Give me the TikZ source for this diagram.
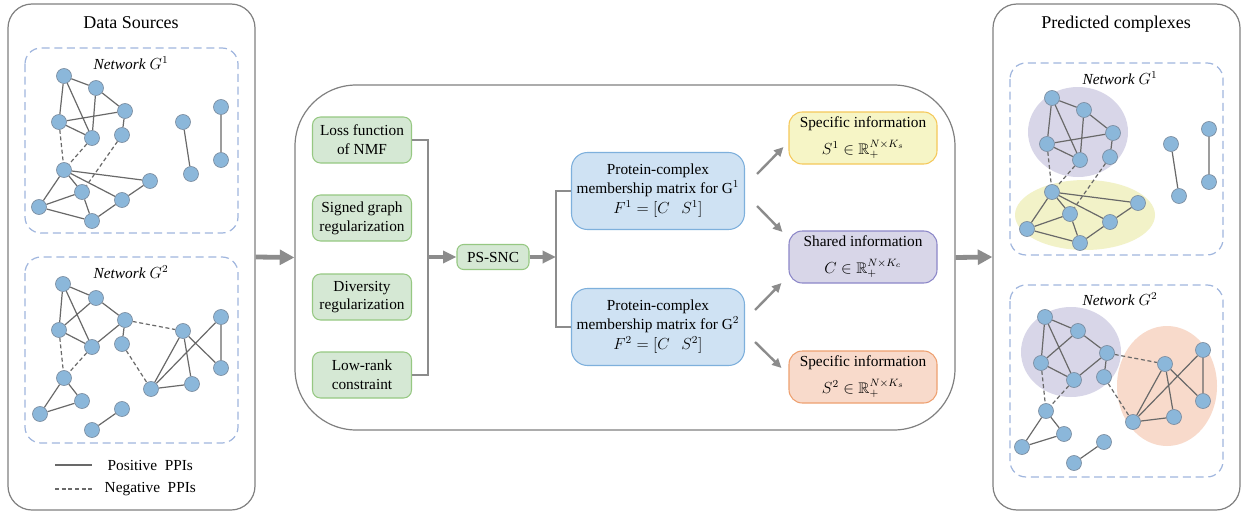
\documentclass[tikz,border=0pt]{standalone}
\usepackage{amssymb}
\usepackage{fontspec}
\setmainfont{Liberation Serif}
\usetikzlibrary{arrows.meta,calc,shapes.geometric}
\pgfdeclarelayer{bgZ}\pgfdeclarelayer{bgA}\pgfdeclarelayer{bgB}
\pgfsetlayers{bgZ,bgA,bgB,main}
\definecolor{nodefill}{RGB}{139,183,218}
\definecolor{nodeedge}{RGB}{120,138,158}
\definecolor{edgegray}{RGB}{105,105,105}
\definecolor{dashblue}{RGB}{160,182,222}
\definecolor{panelgray}{RGB}{128,128,128}
\definecolor{arrowgray}{RGB}{140,140,140}
\definecolor{gfill}{RGB}{213,232,212}
\definecolor{gline}{RGB}{150,200,130}
\definecolor{bfill}{RGB}{207,226,243}
\definecolor{bline}{RGB}{126,176,220}
\definecolor{yfill}{RGB}{246,245,198}
\definecolor{yline}{RGB}{245,200,90}
\definecolor{pfill}{RGB}{216,214,232}
\definecolor{pline}{RGB}{140,135,200}
\definecolor{ofill}{RGB}{248,218,203}
\definecolor{oline}{RGB}{238,160,112}
\definecolor{ellY}{RGB}{242,242,200}
\newcommand\fsbox{\fontsize{11.5}{14}\selectfont}
\newcommand\fstitle{\fontsize{13.5}{16}\selectfont}
\tikzset{
  pnode/.style={circle, minimum size=15*0.75pt, inner sep=0pt, fill=nodefill, draw=nodeedge, line width=0.5pt},
  posedge/.style={draw=edgegray, line width=0.9pt},
  negedge/.style={draw=edgegray, line width=0.9pt, dash pattern=on 3pt off 2pt},
  dbox/.style={draw=dashblue, line width=0.9pt, dash pattern=on 6pt off 3.5pt, rounded corners=12pt},
  panel/.style={draw=panelgray, line width=0.9pt, rounded corners=18pt, minimum width=247*0.75pt, minimum height=506*0.75pt, inner sep=0pt},
  bigarrow/.style={draw=arrowgray, line width=3.6pt, -{Triangle[length=11pt,width=11pt]}},
  midarrow/.style={draw=arrowgray, line width=3pt, -{Triangle[length=10pt,width=9pt]}},
  diagarrow/.style={draw=arrowgray, line width=1.8pt, -{Triangle[length=7pt,width=6.5pt]}},
  conn/.style={draw=arrowgray, line width=1.4pt},
  gbox/.style={rounded corners=6pt, fill=gfill, draw=gline, line width=0.8pt, minimum width=99*0.75pt, minimum height=46*0.75pt, align=center, font=\fsbox, inner sep=1pt},
  bbox/.style={rounded corners=12pt, fill=bfill, draw=bline, line width=0.8pt, minimum width=173*0.75pt, minimum height=77*0.75pt, align=center, font=\fsbox, inner sep=1pt},
  ibox/.style={rounded corners=10pt, line width=0.8pt, minimum width=148*0.75pt, minimum height=52*0.75pt, align=center, font=\fsbox, inner sep=1pt},
  nettitle/.style={font=\fsbox},
}
\newcommand\NetOne[1]{%
  \node[pnode] (#1a1) at (64,76) {};
  \node[pnode] (#1a2) at (96,88) {};
  \node[pnode] (#1a3) at (125,111) {};
  \node[pnode] (#1a4) at (59,122) {};
  \node[pnode] (#1a5) at (92,138) {};
  \node[pnode] (#1a6) at (122,135) {};
  \node[pnode] (#1a7) at (64,170) {};
  \node[pnode] (#1a8) at (150,181) {};
  \node[pnode] (#1a9) at (82,192) {};
  \node[pnode] (#1a10) at (122,200) {};
  \node[pnode] (#1a11) at (39,207) {};
  \node[pnode] (#1a12) at (92,221) {};
  \node[pnode] (#1b1) at (183,122) {};
  \node[pnode] (#1b2) at (191,174) {};
  \node[pnode] (#1c1) at (221,107) {};
  \node[pnode] (#1c2) at (221,160) {};
  \begin{pgfonlayer}{bgB}
  \draw[posedge] (#1a1)--(#1a2) (#1a1)--(#1a4) (#1a1)--(#1a5) (#1a2)--(#1a5)
    (#1a2)--(#1a3) (#1a4)--(#1a3) (#1a4)--(#1a5) (#1a3)--(#1a6)
    (#1a7)--(#1a8) (#1a7)--(#1a9) (#1a7)--(#1a10) (#1a7)--(#1a11)
    (#1a9)--(#1a11) (#1a9)--(#1a12) (#1a11)--(#1a12) (#1a12)--(#1a10)
    (#1a10)--(#1a8) (#1b1)--(#1b2) (#1c1)--(#1c2);
  \draw[negedge] (#1a4)--(#1a7) (#1a5)--(#1a7) (#1a6)--(#1a9);
  \end{pgfonlayer}
}
\newcommand\NetTwo[1]{%
  \node[pnode] (#1d1) at (63,284) {};
  \node[pnode] (#1d2) at (96,298) {};
  \node[pnode] (#1d3) at (125,320) {};
  \node[pnode] (#1d4) at (59,330) {};
  \node[pnode] (#1d5) at (92,347) {};
  \node[pnode] (#1d6) at (122,344) {};
  \node[pnode] (#1d7) at (64,378) {};
  \node[pnode] (#1d8) at (82,401) {};
  \node[pnode] (#1d9) at (40,414) {};
  \node[pnode] (#1d10) at (92,430) {};
  \node[pnode] (#1d11) at (122,409) {};
  \node[pnode] (#1e1) at (183,331) {};
  \node[pnode] (#1e2) at (221,317) {};
  \node[pnode] (#1e3) at (221,368) {};
  \node[pnode] (#1e4) at (192,384) {};
  \node[pnode] (#1e5) at (151,389) {};
  \begin{pgfonlayer}{bgB}
  \draw[posedge] (#1d1)--(#1d2) (#1d1)--(#1d4) (#1d1)--(#1d5) (#1d2)--(#1d4)
    (#1d2)--(#1d3) (#1d4)--(#1d5) (#1d5)--(#1d3) (#1d3)--(#1d6)
    (#1d7)--(#1d8) (#1d7)--(#1d9) (#1d9)--(#1d8) (#1d10)--(#1d11)
    (#1e1)--(#1e5) (#1e1)--(#1e4) (#1e1)--(#1e3) (#1e2)--(#1e5)
    (#1e2)--(#1e3) (#1e5)--(#1e4);
  \draw[negedge] (#1d4)--(#1d7) (#1d5)--(#1d7) (#1d3)--(#1e1) (#1d6)--(#1e5);
  \end{pgfonlayer}
}
\begin{document}
\begin{tikzpicture}[x=0.75pt,y=-0.75pt]
\begin{pgfonlayer}{bgZ}
\fill[white] (0,0) rectangle (1247,514);
\end{pgfonlayer}
\useasboundingbox (0,0) rectangle (1247,514);
% panels
\node[panel] (lp) at (131.5,257) {};
\node[panel] (rp) at (1116.5,257) {};
\node[draw=panelgray, line width=0.9pt, rounded corners=46pt, minimum width=660*0.75pt, minimum height=345*0.75pt, inner sep=0pt] (mp) at (625,257.5) {};
\node[font=\fstitle] (lt) at (131,23) {Data Sources};
\node[font=\fstitle] (rt) at (1116,24) {Predicted complexes};
% left networks
\draw[dbox] (25,48) rectangle (238,233);
\node[nettitle] (lg1) at (131,63) {\textit{Network} $G^1$};
\NetOne{L}
\draw[dbox] (25,257) rectangle (238,443);
\node[nettitle] (lg2) at (131,272) {\textit{Network} $G^2$};
\NetTwo{L}
% legend
\coordinate (lpa) at (55,465); \coordinate (lpb) at (92,465);
\coordinate (lna) at (55,489); \coordinate (lnb) at (92,489);
\draw[posedge] (lpa) -- (lpb);
\draw[negedge] (lna) -- (lnb);
\node[font=\fsbox, anchor=west] (legp) at (103,465) {Positive\ \ PPIs};
\node[font=\fsbox, anchor=west] (legn) at (100,489) {Negative\ \ PPIs};
% right networks
\draw[dbox] (1010,63) rectangle (1223,255);
\node[nettitle] (rg1) at (1120,78) {\textit{Network} $G^1$};
\begin{pgfonlayer}{bgA}
\fill[pfill] (1078,132) ellipse [x radius=50, y radius=45];
\fill[ellY] (1085,215) ellipse [x radius=70, y radius=35];
\fill[pfill] (1071,352) ellipse [x radius=50, y radius=45];
\fill[ofill] (1167,386) ellipse [x radius=50, y radius=60];
\end{pgfonlayer}
\begin{scope}[shift={(988,22)}]
\NetOne{R}
\end{scope}
\draw[dbox] (1010,285) rectangle (1223,477);
\node[nettitle] (rg2) at (1120,299) {\textit{Network} $G^2$};
\begin{scope}[shift={(982,33)}]
\NetTwo{R}
\end{scope}
% middle
\node[gbox] (g1) at (362,140) {Loss function\\of NMF};
\node[gbox] (g2) at (362,218) {Signed graph\\regularization};
\node[gbox] (g3) at (362,297) {Diversity\\regularization};
\node[gbox] (g4) at (362,375) {Low-rank\\constraint};
\node[gbox, minimum width=72*0.75pt, minimum height=25*0.75pt, rounded corners=5pt] (ps) at (493,257) {PS-SNC};
\node[bbox] (f1) at (658,191) {Protein-complex\\membership matrix for G$^1$\\[1pt]$F^1=[C\ \ \ S^1]$};
\node[bbox] (f2) at (658,327) {Protein-complex\\membership matrix for G$^2$\\[1pt]$F^2=[C\ \ \ S^2]$};
\node[ibox, fill=yfill, draw=yline] (s1) at (863,138) {Specific information\\[6pt]$S^1\in\mathbb{R}_+^{N\times K_s}$};
\node[ibox, fill=pfill, draw=pline] (sh) at (863,257) {Shared information\\[6pt]$C\in\mathbb{R}_+^{N\times K_c}$};
\node[ibox, fill=ofill, draw=oline] (s2) at (863,377) {Specific information\\[6pt]$S^2\in\mathbb{R}_+^{N\times K_s}$};
\coordinate (jl) at (428,257);
\coordinate (jr) at (556,257);
\draw[conn] (g1.east) -| (jl);
\draw[conn] (g4.east) -| (jl);
\draw[midarrow] (jl) -- (ps.west);
\draw[midarrow] (ps.east) -- (jr);
\draw[conn] (jr) |- (f1.west);
\draw[conn] (jr) |- (f2.west);
\draw[diagarrow] ($(f1.east)+(12,-17)$) -- ($(s1.west)+(-5,9)$);
\draw[diagarrow] ($(f1.east)+(12,15)$) -- ($(sh.west)+(-6,-25)$);
\draw[diagarrow] ($(f2.east)+(10,-17)$) -- ($(sh.west)+(-7,26)$);
\draw[diagarrow] ($(f2.east)+(10,15)$) -- ($(s2.west)+(-7,-9)$);
\draw[bigarrow] (lp.east) -- (mp.west);
\draw[bigarrow] (mp.east) -- (rp.west);
\end{tikzpicture}
\end{document}
